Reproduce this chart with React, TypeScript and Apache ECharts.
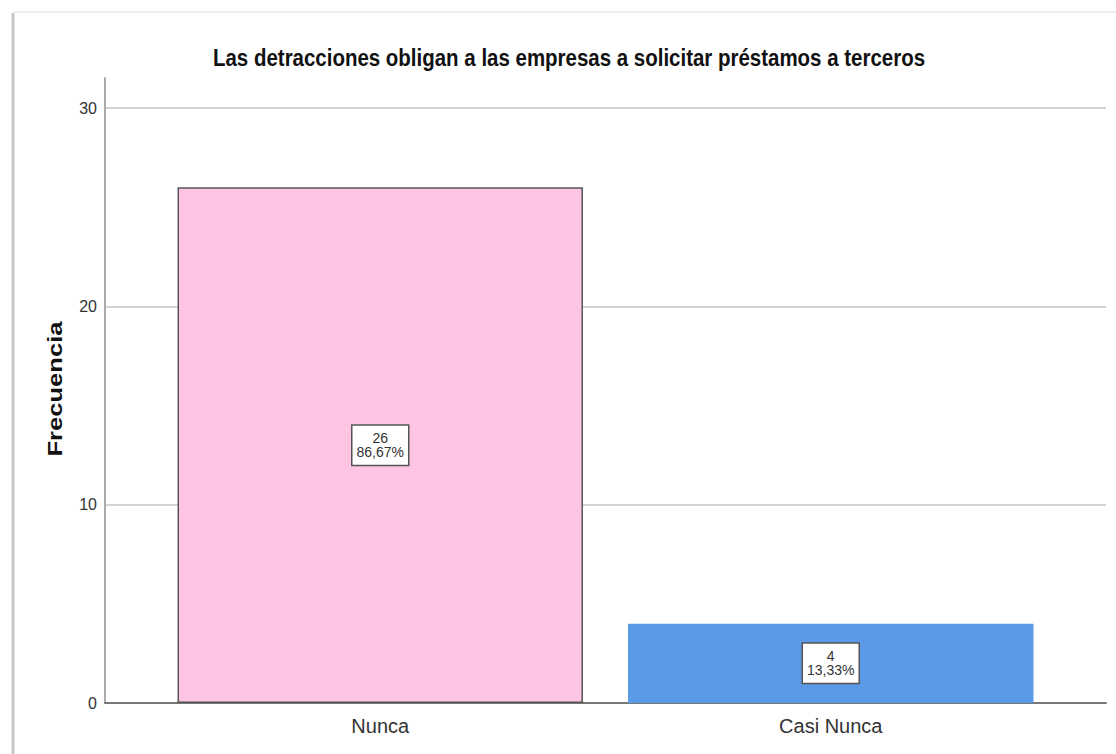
import React, { useEffect, useRef } from "react";
import * as echarts from "echarts";

const titleText = "Las detracciones obligan a las empresas a solicitar préstamos a terceros";
const yAxisTitle = "Frecuencia";
const categories = ["Nunca", "Casi Nunca"];
const frequencies = [26, 4];
const barColors = ["#FEC4E3", "#5B9AE6"];
const barBorders = ["#555555", "#5B9AE6"];
const yTicks = { min: 0, max: 30, interval: 10 };
const yAxisTop = 31.5;

const FONT = "'Liberation Sans', Arial, sans-serif";

export default function App() {
  const ref = useRef<HTMLDivElement>(null);
  useEffect(() => {
    document.body.style.margin = "0";
    const chart = echarts.init(ref.current!, null, { renderer: "svg" });
    const total = frequencies.reduce((a, b) => a + b, 0);
    const pct = frequencies.map((v) => ((v / total) * 100).toFixed(2).replace(".", ",") + "%");

    const gridL = 105, gridR = 10, bottom = 51, top = 108;
    chart.setOption({
      animation: false,
      backgroundColor: "#ffffff",
      grid: [
        { left: gridL, right: gridR, top: 78, bottom },
        { left: gridL, right: gridR, top, bottom },
        { left: 155, right: 60, top, bottom },
      ],
      xAxis: [
        {
          gridIndex: 0, type: "category", data: categories,
          axisLine: { show: true, lineStyle: { color: "#777", width: 2 } },
          axisTick: { show: false }, axisLabel: { show: false }, splitLine: { show: false },
        },
        { gridIndex: 1, type: "category", data: categories, show: false },
        {
          gridIndex: 2, type: "category", data: categories,
          axisLine: { show: false }, axisTick: { show: false },
          axisLabel: { color: "#333", fontFamily: FONT, fontSize: 20, margin: 13 },
        },
      ],
      yAxis: [
        {
          gridIndex: 0, type: "value", min: 0, max: yAxisTop,
          axisLine: { show: true, lineStyle: { color: "#aaa", width: 2 } },
          axisTick: { show: false }, axisLabel: { show: false }, splitLine: { show: false },
        },
        {
          gridIndex: 1, type: "value", min: yTicks.min, max: yTicks.max, interval: yTicks.interval,
          axisLine: { show: false }, axisTick: { show: false },
          axisLabel: { color: "#333", fontFamily: FONT, fontSize: 16, margin: 8 },
          splitLine: { show: true, lineStyle: { color: "#d4d4d4", width: 2 } },
        },
        { gridIndex: 2, type: "value", min: yTicks.min, max: yTicks.max, show: false },
      ],
      series: [
        {
          type: "bar",
          xAxisIndex: 2, yAxisIndex: 2,
          barWidth: "90%",
          data: frequencies.map((v, i) => ({
            value: v,
            itemStyle: { color: barColors[i], borderColor: barBorders[i], borderWidth: 1.5 },
          })),
          label: {
            show: true, position: "inside",
            formatter: (p: any) => `${p.value}\n${pct[p.dataIndex]}`,
            color: "#333", fontFamily: FONT, fontSize: 14, lineHeight: 14,
            backgroundColor: "#ffffff", borderColor: "#555", borderWidth: 1.5,
            padding: [6, 4, 5, 4], align: "center",
          },
        },
      ],
      graphic: [
        { type: "line", shape: { x1: 13, y1: 13, x2: 13, y2: 754 }, style: { stroke: "#c8c8c8", lineWidth: 3 } },
        { type: "line", shape: { x1: 13, y1: 12, x2: 1116, y2: 12 }, style: { stroke: "#eeeeee", lineWidth: 2 } },
        {
          type: "text", x: 569, y: 58, scaleX: 0.89,
          style: { text: titleText, fill: "#111", fontFamily: FONT, fontWeight: "bold", fontSize: 23, textAlign: "center", textVerticalAlign: "middle" },
        },
        {
          type: "text", x: 55, y: 389, rotation: Math.PI / 2, scaleX: 1.28,
          style: { text: yAxisTitle, fill: "#111", fontFamily: FONT, fontWeight: "bold", fontSize: 20, textAlign: "center", textVerticalAlign: "middle" },
        },
      ],
    });
    return () => chart.dispose();
  }, []);
  return <div ref={ref} style={{ position: "absolute", left: 0, top: 0, width: 1116, height: 754 }} />;
}
